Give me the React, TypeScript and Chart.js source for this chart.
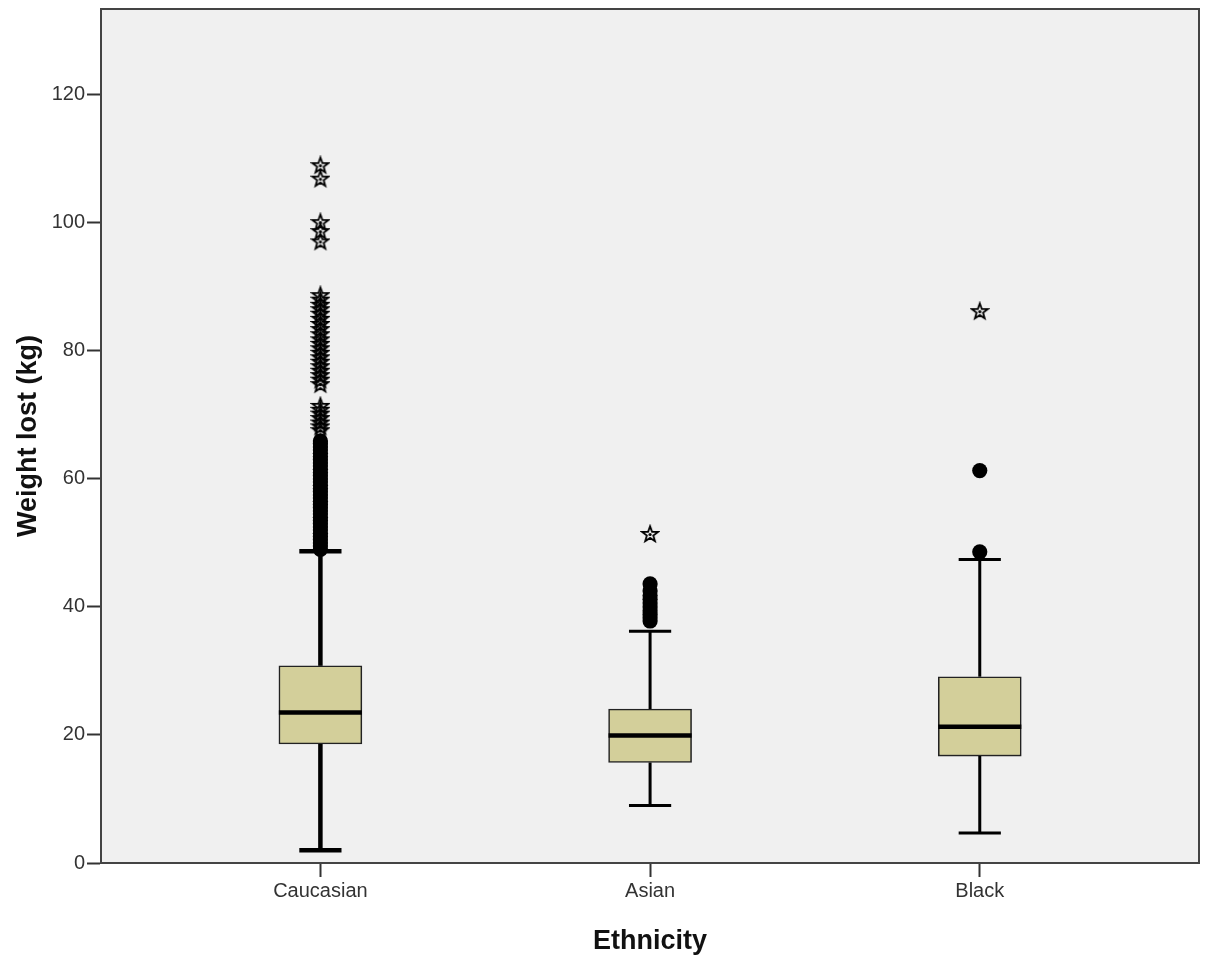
import React, { useEffect, useRef } from "react";
import { Chart, registerables } from "chart.js";

Chart.register(...registerables);

// ---- Data ----
const categories = ["Caucasian", "Asian", "Black"];
const q1 = [18.6, 15.7, 16.7];
const medians = [23.5, 19.9, 21.3];
const q3 = [30.8, 24.05, 29.1];
const whiskerLow = [2.0, 9.0, 4.7];
const whiskerHigh = [48.7, 36.2, 47.4];

// outliers (circles) and extreme values (stars)
const outliersCaucasian = [
  49.0, 49.5, 50.0, 50.5, 51.0, 51.5, 52.0, 52.5, 53.0, 53.5, 54.0, 54.5, 55.0,
  55.5, 56.0, 56.5, 57.0, 57.5, 58.0, 58.5, 59.0, 59.5, 60.0, 60.5, 61.0, 61.5,
  62.0, 62.5, 63.0, 63.5, 64.0, 64.5, 65.0, 65.5, 65.9,
];
const extremesCaucasian = [
  67.6, 68.2, 68.8, 69.5, 70.2, 70.8, 71.4, 74.8, 75.5, 76.2, 76.9, 77.6, 78.3,
  79.0, 79.7, 80.4, 81.1, 81.8, 82.6, 83.4, 84.2, 85.0, 85.8, 86.5, 87.2, 88.0,
  88.7, 97.1, 98.7, 100.1, 106.9, 109.0,
];
const outliersAsian = [37.8, 38.3, 38.8, 39.4, 40.0, 40.6, 41.2, 41.8, 42.5, 43.6];
const extremesAsian = [51.4];
const outliersBlack = [48.6, 61.3];
const extremesBlack = [86.2];

const outliers = [outliersCaucasian, outliersAsian, outliersBlack];
const extremes = [extremesCaucasian, extremesAsian, extremesBlack];

const yTicks = [0, 20, 40, 60, 80, 100, 120];
const yMax = 133.4;
const xTitle = "Ethnicity";
const yTitle = "Weight lost (kg)";

// ---- Styles ----
const boxFill = "#d3cf9a";
const boxHalf = 0.126; // half box width in x units
const capHalf = 0.064;
const whiskerWidths = [4.5, 3, 3];

function makeStar(): HTMLCanvasElement {
  const c = document.createElement("canvas");
  c.width = 20;
  c.height = 20;
  const ctx = c.getContext("2d")!;
  const cx = 10, cy = 10.5, R = 8.3, r = 3.4;
  ctx.beginPath();
  for (let i = 0; i < 10; i++) {
    const rad = i % 2 === 0 ? R : r;
    const a = -Math.PI / 2 + (i * Math.PI) / 5;
    const x = cx + rad * Math.cos(a);
    const y = cy + rad * Math.sin(a);
    if (i === 0) ctx.moveTo(x, y);
    else ctx.lineTo(x, y);
  }
  ctx.closePath();
  ctx.strokeStyle = "#000";
  ctx.lineWidth = 1.8;
  ctx.lineJoin = "miter";
  ctx.stroke();
  ctx.fillStyle = "#000";
  ctx.beginPath();
  ctx.arc(cx, cy, 1.6, 0, Math.PI * 2);
  ctx.fill();
  return c;
}

const bgPlugin = {
  id: "areaBg",
  beforeDraw(chart: any) {
    const { ctx, chartArea } = chart;
    ctx.save();
    ctx.fillStyle = "#f0f0f0";
    ctx.fillRect(chartArea.left, chartArea.top, chartArea.right - chartArea.left, chartArea.bottom - chartArea.top);
    ctx.restore();
  },
  afterDraw(chart: any) {
    const { ctx, chartArea } = chart;
    ctx.save();
    ctx.strokeStyle = "#444";
    ctx.lineWidth = 2;
    ctx.strokeRect(chartArea.left, chartArea.top, chartArea.right - chartArea.left, chartArea.bottom - chartArea.top);
    ctx.restore();
  },
};

export default function App() {
  const ref = useRef<HTMLCanvasElement | null>(null);

  useEffect(() => {
    document.body.style.margin = "0";
    const star = makeStar();
    const datasets: any[] = [];

    // boxes
    datasets.push({
      type: "bar",
      data: categories.map((_, i) => ({ x: i + 1, y: [q1[i], q3[i]] })),
      backgroundColor: boxFill,
      borderColor: "#222",
      borderWidth: 1.6,
      borderSkipped: false,
      barThickness: 83,
      order: 10,
    });

    categories.forEach((_, i) => {
      const x = i + 1;
      const lineBase = {
        type: "line",
        showLine: true,
        pointRadius: 0,
        borderColor: "#000",
        fill: false,
        order: 5,
      };
      // whiskers
      datasets.push({ ...lineBase, borderWidth: whiskerWidths[i], data: [{ x, y: q3[i] }, { x, y: whiskerHigh[i] }] });
      datasets.push({ ...lineBase, borderWidth: whiskerWidths[i], data: [{ x, y: q1[i] }, { x, y: whiskerLow[i] }] });
      // caps
      datasets.push({ ...lineBase, borderWidth: whiskerWidths[i], data: [{ x: x - capHalf, y: whiskerHigh[i] }, { x: x + capHalf, y: whiskerHigh[i] }] });
      datasets.push({ ...lineBase, borderWidth: whiskerWidths[i], data: [{ x: x - capHalf, y: whiskerLow[i] }, { x: x + capHalf, y: whiskerLow[i] }] });
      // median
      datasets.push({ ...lineBase, borderWidth: 4.5, order: 1, data: [{ x: x - boxHalf, y: medians[i] }, { x: x + boxHalf, y: medians[i] }] });
      // outliers
      datasets.push({
        type: "scatter",
        data: outliers[i].map((v) => ({ x, y: v })),
        pointStyle: "circle",
        pointRadius: 7.6,
        backgroundColor: "#000",
        borderColor: "#000",
        borderWidth: 0,
        order: 0,
      });
      datasets.push({
        type: "scatter",
        data: extremes[i].map((v) => ({ x, y: v })),
        pointStyle: star,
        pointRadius: 8,
        order: 0,
      });
    });

    const tickFont = { family: "'Liberation Sans', Arial, sans-serif", size: 20 };
    const titleFont = { family: "'Liberation Sans', Arial, sans-serif", size: 27, weight: "bold" as const };

    const chart = new Chart(ref.current!, {
      type: "scatter",
      data: { datasets },
      plugins: [bgPlugin],
      options: {
        animation: false,
        responsive: false,
        devicePixelRatio: 1,
        layout: { padding: { top: 4, right: 9, left: 0, bottom: 0 } },
        plugins: { legend: { display: false }, tooltip: { enabled: false } },
        scales: {
          x: {
            type: "linear",
            min: 0.3345,
            max: 3.665,
            offset: false,
            grid: { drawOnChartArea: false, offset: false, tickLength: 14, tickWidth: 2, tickColor: "#333" },
            border: { color: "#333", width: 2 },
            afterBuildTicks: (scale: any) => {
              scale.ticks = categories.map((_, i) => ({ value: i + 1 }));
            },
            afterFit: (scale: any) => {
              scale.height = 95;
              scale.paddingLeft = 0;
              scale.paddingRight = 0;
            },
            ticks: {
              font: tickFont,
              color: "#333",
              padding: 2,
              maxRotation: 0,
              autoSkip: false,
              callback: (v: any) => categories[Math.round(Number(v)) - 1] ?? "",
            },
            title: { display: true, text: xTitle, font: titleFont, color: "#111", padding: { top: 0, bottom: 0 } },
          },
          y: {
            type: "linear",
            min: 0,
            max: yMax,
            grid: { drawOnChartArea: false, tickLength: 14, tickWidth: 2, tickColor: "#333" },
            border: { color: "#333", width: 2 },
            afterBuildTicks: (scale: any) => {
              scale.ticks = yTicks.map((v) => ({ value: v }));
            },
            afterFit: (scale: any) => {
              scale.width = 101;
              scale.paddingTop = 0;
              scale.paddingBottom = 0;
            },
            ticks: { font: tickFont, color: "#333", padding: 2 },
            title: { display: true, text: yTitle, font: titleFont, color: "#111", padding: { top: 12, bottom: 0 } },
          },
        },
      } as any,
    });
    return () => chart.destroy();
  }, []);

  return <canvas ref={ref} width={1208} height={958} style={{ display: "block" }} />;
}
